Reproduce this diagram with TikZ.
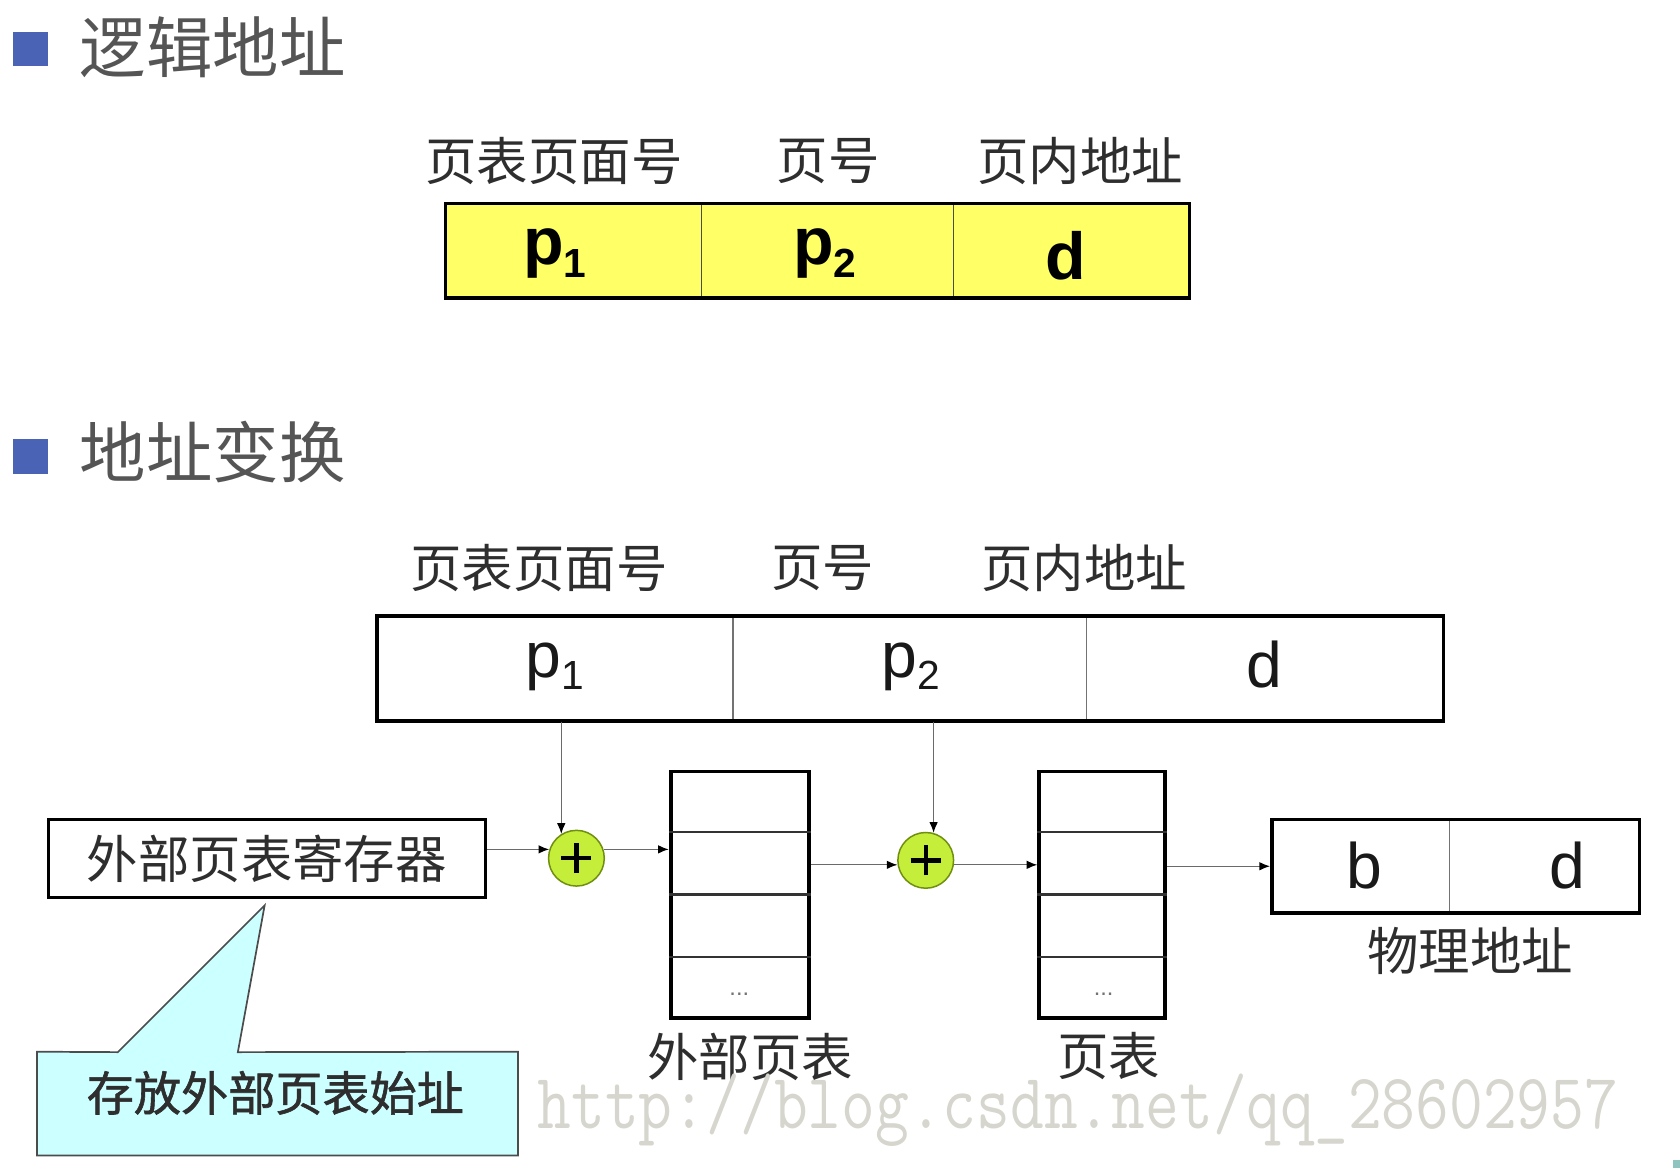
\documentclass[tikz,border=0pt]{standalone}
\usepackage{fontspec}
\setmainfont{Liberation Sans}
\newfontfamily\cjk{Noto Sans CJK SC}
\newfontfamily\cjksemi[FakeBold=1.2]{Noto Sans CJK SC}
\usetikzlibrary{arrows.meta,calc}
\definecolor{bullet}{HTML}{4A63B5}
\definecolor{titlegray}{HTML}{555555}
\definecolor{labelgray}{HTML}{2E2E2E}
\definecolor{cellyellow}{HTML}{FFFF66}
\definecolor{addgreen}{HTML}{C4EE3A}
\definecolor{addrim}{HTML}{6F8F10}
\definecolor{notecyan}{HTML}{CCFFFF}
\definecolor{wmgray}{HTML}{D6D6CE}
\definecolor{linegray}{HTML}{6A6A6A}
\definecolor{cornerteal}{HTML}{8FC4C0}

\begin{document}
\begin{tikzpicture}[x=0.5pt,y=-0.5pt,
  bulletsq/.style={fill=bullet, minimum width=16.5pt, minimum height=16pt, inner sep=0},
  title/.style={font=\cjk\fontsize{31}{31}\selectfont, text=titlegray, inner sep=0, anchor=west},
  lbl/.style={font=\cjk\fontsize{24}{24}\selectfont, text=labelgray, inner sep=0},
  ycell/.style={fill=cellyellow, draw=black!70, line width=0.6pt, minimum height=44pt, inner sep=0},
  wcell/.style={fill=white, draw=black!55, line width=0.6pt, minimum height=49pt, inner sep=0},
  pcell/.style={fill=white, draw=black!55, line width=0.6pt, minimum height=43.5pt, inner sep=0},
  frame/.style={draw=black, line width=1.6pt, inner sep=0},
  boldletter/.style={font=\fontsize{31}{31}\selectfont\bfseries, inner sep=0},
  letter/.style={font=\fontsize{30}{30}\selectfont, text=black!90, inner sep=0},
  arr/.style={draw=linegray, line width=0.6pt, -{Latex[length=5pt,width=4pt,color=black]}},
  adder/.style={circle, fill=addgreen, draw=addrim, line width=0.7pt, minimum size=26pt, inner sep=0,
    path picture={\draw[line width=2pt,black]
      ([xshift=-7pt]path picture bounding box.center) -- ([xshift=7pt]path picture bounding box.center)
      ([yshift=-7pt]path picture bounding box.center) -- ([yshift=7pt]path picture bounding box.center);}},
  tablebox/.style={draw=black, line width=1.8pt, fill=white, minimum height=115pt, inner sep=0},
  rowline/.style={draw=black!80, line width=1.1pt},
  dots/.style={font=\fontsize{11}{11}\selectfont, text=black!55, inner sep=0},
]
\useasboundingbox (0,0) rectangle (1568,1090);

% ---- section headings ----
\node[bulletsq] (b1) at (28.5,46) {};
\node[title] (t1title) at (74,44) {逻辑地址};
\node[bulletsq] (b2) at (28.5,426) {};
\node[title] (t2title) at (74,422) {地址变换};

% ---- logical address (yellow) ----
\node[lbl] (l1a) at (517,150) {页表页面号};
\node[lbl] (l1b) at (773,150) {页号};
\node[lbl] (l1c) at (1008,150) {页内地址};

\node[ycell, minimum width=119.5pt] (ya) at (535.5,234) {};
\node[ycell, minimum width=117.5pt] (yb) at (772.5,234) {};
\node[ycell, minimum width=110pt]   (yc) at (1000,234) {};
\node[frame, minimum width=347pt, minimum height=44pt] (yall) at (763,234) {};
\node[boldletter] (yp1) at (518,237) {p\raisebox{-6pt}{\fontsize{19}{19}\selectfont 1}};
\node[boldletter] (yp2) at (770,237) {p\raisebox{-6pt}{\fontsize{19}{19}\selectfont 2}};
\node[boldletter] (yd)  at (995,239) {d};

% ---- address translation ----
\node[lbl] (l2a) at (503,530) {页表页面号};
\node[lbl] (l2b) at (768,530) {页号};
\node[lbl] (l2c) at (1012,530) {页内地址};

\node[wcell, minimum width=166pt]   (wa) at (518,624) {};
\node[wcell, minimum width=165pt]   (wb) at (849,624) {};
\node[wcell, minimum width=166.5pt] (wc) at (1180.5,624) {};
\node[frame, minimum width=497.5pt, minimum height=49pt] (wall) at (849.5,624) {};
\node[letter] (wp1) at (518,622) {p\raisebox{-6pt}{\fontsize{19}{19}\selectfont 1}};
\node[letter] (wp2) at (850,622) {p\raisebox{-6pt}{\fontsize{19}{19}\selectfont 2}};
\node[letter] (wd)  at (1180,620) {d};

% register
\node[draw=black, line width=1.4pt, minimum width=204pt, minimum height=36.5pt, inner sep=0,
      font=\cjk\fontsize{24}{24}\selectfont, text=labelgray] (reg) at (249,801.5) {外部页表寄存器};

% adders
\node[adder] (c1) at (538,801) {};
\node[adder] (c2) at (864,803) {};

% outer page table
\node[tablebox, minimum width=64.5pt] (tab1) at (690.5,835) {};
\foreach \f in {0.25,0.5,0.75}
  \draw[rowline] ($(tab1.north west)!\f!(tab1.south west)$) -- ($(tab1.north east)!\f!(tab1.south east)$);
\node[dots] (dots1) at (690,928) {...};
\node[lbl] (cap1) at (700,986) {外部页表};

% page table
\node[tablebox, minimum width=58.5pt] (tab2) at (1028.5,835) {};
\foreach \f in {0.25,0.5,0.75}
  \draw[rowline] ($(tab2.north west)!\f!(tab2.south west)$) -- ($(tab2.north east)!\f!(tab2.south east)$);
\node[dots] (dots2) at (1030,928) {...};
\node[lbl] (cap2) at (1035,986) {页表};

% physical address
\node[pcell, minimum width=83pt]   (pb) at (1270,808.5) {};
\node[pcell, minimum width=88.5pt] (pd) at (1441.5,808.5) {};
\node[frame, minimum width=171.5pt, minimum height=43.5pt] (pall) at (1358.5,808.5) {};
\node[letter] (pbt) at (1273,808) {b};
\node[letter] (pdt) at (1463,808) {d};
\node[lbl] (cap3) at (1372,888) {物理地址};

% ---- connectors ----
\draw[arr] (wa.south -| c1.122) -- (c1.122);
\draw[arr] (wb.south -| c2.74) -- (c2.74);
\draw[arr] (reg.east |- c1.162) -- (c1.162);
\draw[arr] (c1.18) -- (tab1.west |- c1.18);
\draw[arr] (tab1.east |- c2.189) -- (c2.189);
\draw[arr] (c2.-9) -- (tab2.west |- c2.-9);
\draw[arr] (tab2.east |- pall.west) -- (pall.west);

% ---- callout ----
\node[minimum width=224pt, minimum height=48pt, inner sep=0] (note) at (259,1030) {};
\coordinate (tipL) at (110,982);
\coordinate (tipR) at (222,982);
\coordinate (apex) at (247,845);
\path[fill=notecyan, draw=black!70, line width=0.8pt, line join=miter]
  (note.north west) -- (tipL) -- (apex) -- (tipR) -- (note.north east)
  -- (note.south east) -- (note.south west) -- cycle;
\node[font=\cjksemi\fontsize{22}{22}\selectfont, text=labelgray, inner sep=0] (notetext) at (257,1020) {存放外部页表始址};

% ---- watermark ----
\node[font=\ttfamily\fontsize{30.6}{30.6}\selectfont, text=wmgray, inner sep=0] (wm) at (1006,1036)
  {\scalebox{1}[1.2]{http://blog.csdn.net/qq\_28602957}};

\fill[cornerteal] (1561,1083) rectangle (1568,1090);
\end{tikzpicture}
\end{document}
